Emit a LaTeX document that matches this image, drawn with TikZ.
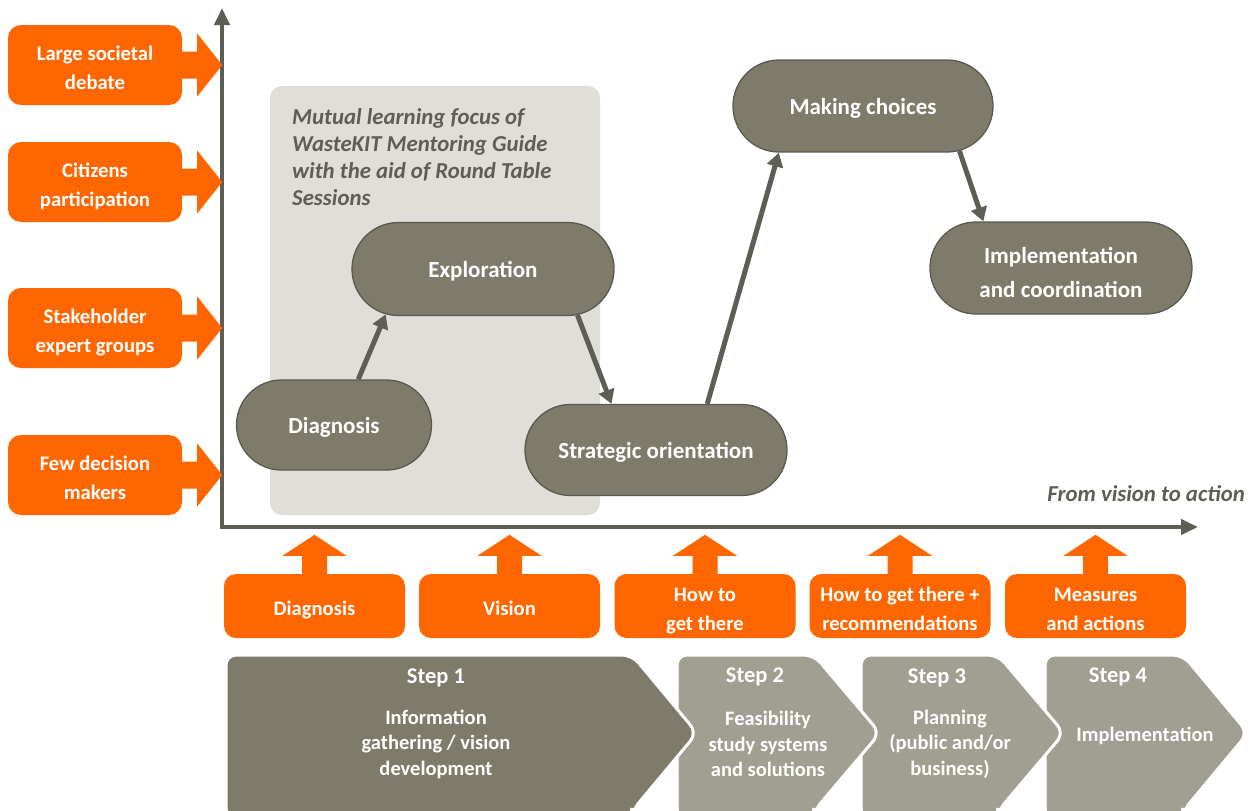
\documentclass[tikz,border=0pt]{standalone}
\usepackage{fontspec}
\setmainfont{Carlito}
\usetikzlibrary{arrows.meta,shapes.misc}
\definecolor{orng}{HTML}{FF6600}
\definecolor{pillfill}{HTML}{7F7B6B}
\definecolor{pillline}{HTML}{5A594F}
\definecolor{steplight}{HTML}{A19E92}
\definecolor{axisgray}{HTML}{5F5E56}
\definecolor{panelgray}{HTML}{DFDED9}
% centred lines, lowered a little while keeping the box size
\newcommand{\dn}[2][4pt]{\raisebox{-#1}[\height][\depth]{\begin{tabular}{@{}c@{}}#2\end{tabular}}}
\begin{document}
\begin{tikzpicture}[x=1pt,y=-1pt,
  lbox/.style={draw=none,fill=orng,rounded corners=13pt,minimum width=174pt,minimum height=80pt,
    text=white,font=\fontsize{20.7}{29}\selectfont\bfseries,inner sep=0pt},
  bbox/.style={draw=none,fill=orng,rounded corners=12pt,minimum width=181pt,minimum height=64pt,
    text=white,font=\fontsize{20.6}{29}\selectfont\bfseries,inner sep=0pt},
  pill/.style={rounded rectangle,draw=pillline,line width=1.3pt,fill=pillfill,text=white,
    align=center,font=\fontsize{23}{34}\selectfont\bfseries,inner sep=0pt,text depth=0pt},
  flow/.style={draw=axisgray,line width=5pt,-{Triangle[length=14pt,width=16pt]}},
  steptitle/.style={text=white,font=\fontsize{22.5}{26}\selectfont\bfseries,inner sep=0pt},
  stepdesc/.style={text=white,align=center,font=\fontsize{20.5}{25.5}\selectfont\bfseries,inner sep=0pt},
  chev/.style={draw=white,line width=3pt,rounded corners=10pt},
  note/.style={text=axisgray,font=\fontsize{22.8}{27}\selectfont\bfseries\itshape,inner sep=0pt}
]
\useasboundingbox (0,0) rectangle (1254,811);

% shaded panel for the mutual-learning part
\fill[panelgray,rounded corners=12pt] (270,86) rectangle (600,515);
\node[note,anchor=west,align=left] (focus) at (292,157)
  {Mutual learning focus of\\WasteKIT Mentoring Guide\\with the aid of Round Table\\Sessions};

% axes
\coordinate (ytop) at (222,8);
\coordinate (origin) at (222,527);
\coordinate (xend) at (1198,527);
\draw[axisgray,line width=4pt,{Triangle[length=17pt,width=15pt]}-{Triangle[length=17pt,width=15pt]}]
  (ytop) -- (origin) -- (xend);
\node[note,anchor=east] (axlabel) at (1245,494) {From vision to action};

% participation levels on the left
\foreach \n/\y/\t in {lb1/65/{Large societal\\debate},
                      lb2/182/{Citizens\\participation},
                      lb3/328/{Stakeholder\\expert groups},
                      lb4/475/{Few decision\\makers}} {
  \node[lbox] (\n) at (95,\y) {\dn{\t}};
  \fill[orng] (\n.east) ++(-2,-13.5) -- ++(17,0) -- ++(0,-18) -- ++(25,31.5)
     -- ++(-25,31.5) -- ++(0,-18) -- ++(-17,0) -- cycle;
}

% process stages
\node[pill,minimum width=195pt,minimum height=90pt] (diag) at (334,425) {Diagnosis};
\node[pill,minimum width=262pt,minimum height=93pt] (expl) at (483,269) {Exploration};
\node[pill,minimum width=262pt,minimum height=91pt] (strat) at (656,450) {Strategic orientation};
\node[pill,minimum width=260pt,minimum height=92pt] (make) at (863,106) {Making choices};
\node[pill,minimum width=262pt,minimum height=92pt,align=none,text depth=] (impl) at (1061,268)
  {\fontsize{23}{34}\selectfont\dn[6pt]{Implementation\\and coordination}};

\draw[flow] (diag.62) -- (expl.205);
\draw[flow] (expl.334) -- (strat.134);
\draw[flow] (strat.42) -- (make.209);
\draw[flow] (make.335) -- (impl.149);

% outputs feeding the horizontal axis
\foreach \n/\x/\t in {ob1/314.5/{Diagnosis},
                      ob2/509.5/{Vision},
                      ob3/705/{How to\\get there},
                      ob4/900/{How to get there +\\recommendations},
                      ob5/1095.5/{Measures\\and actions}} {
  \node[bbox] (\n) at (\x,606) {\dn{\t}};
  \fill[orng] (\n.north) ++(-12.5,2) -- ++(0,-20) -- ++(-19.5,0) -- ++(32,-21)
     -- ++(32,21) -- ++(-19.5,0) -- ++(0,20) -- cycle;
}

% step chevrons, drawn right to left so each tip overlaps the next step
\filldraw[chev,fill=steplight] (1045,655) -- (1183,655) -- (1248,733) -- (1183,811) -- (1183,818) -- (1045,818) -- cycle;
\filldraw[chev,fill=steplight] (861,655) -- (998,655) -- (1064,733) -- (998,811) -- (998,818) -- (861,818) -- cycle;
\filldraw[chev,fill=steplight] (677,655) -- (814,655) -- (880,733) -- (814,811) -- (814,818) -- (677,818) -- cycle;
\filldraw[chev,fill=pillfill] (226,655) -- (632,655) -- (697,733) -- (632,811) -- (632,818) -- (226,818) -- cycle;

\node[steptitle] (s1t) at (436,678) {Step 1};
\node[stepdesc] (s1d) at (436,744) {Information\\gathering / vision\\development};
\node[steptitle] (s2t) at (755,677) {Step 2};
\node[stepdesc] (s2d) at (768,744) {Feasibility\\study systems\\and solutions};
\node[steptitle] (s3t) at (937,678) {Step 3};
\node[stepdesc] (s3d) at (950,744) {Planning\\(public and/or\\business)};
\node[steptitle] (s4t) at (1118,677) {Step 4};
\node[stepdesc] (s4d) at (1145,736) {Implementation};
\end{tikzpicture}
\end{document}
